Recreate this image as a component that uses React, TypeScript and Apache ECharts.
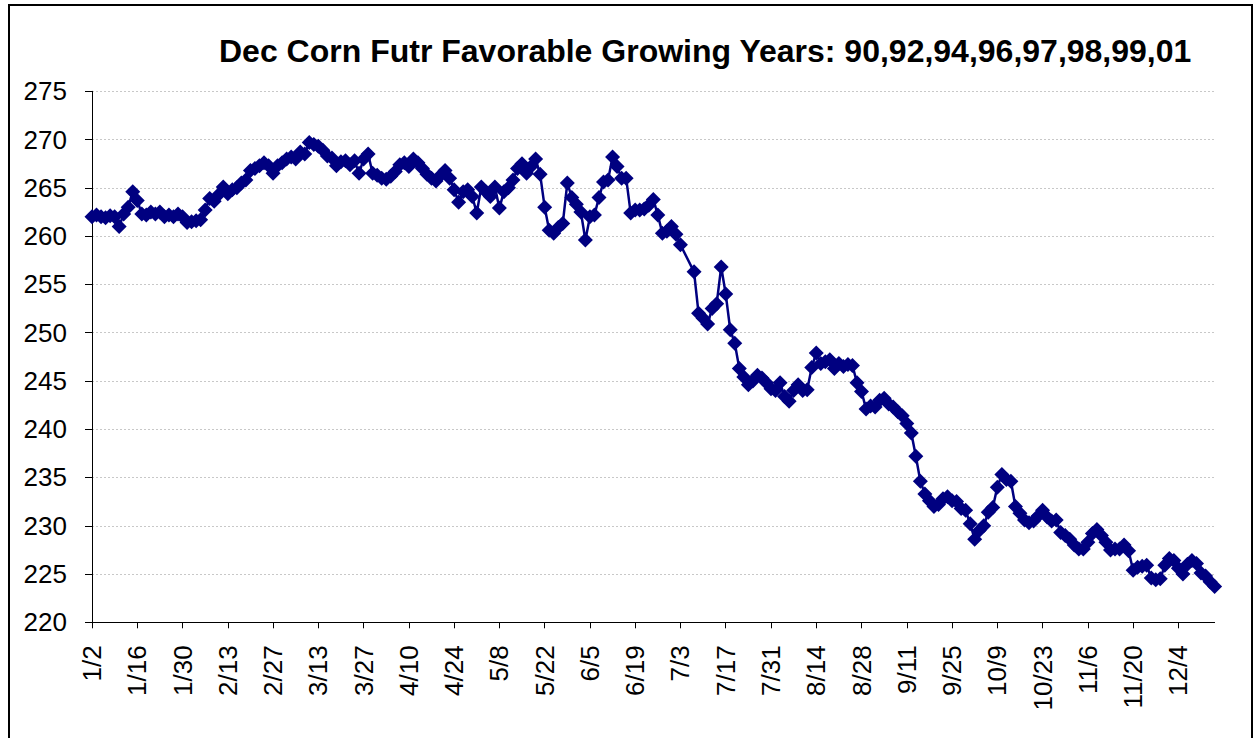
import React, { useEffect, useRef } from "react";
import * as echarts from "echarts";

const titleText = "Dec Corn Futr Favorable Growing Years: 90,92,94,96,97,98,99,01";

// trading-day (weekday) categories starting 1/2
const startMonth = 1;
const startDay = 2;
const categoryCount = 249;
const daysInMonth = [31, 28, 31, 30, 31, 30, 31, 31, 30, 31, 30, 31];
function buildCategories(): string[] {
  const out: string[] = [];
  let m = startMonth;
  let d = startDay;
  let dow = 1; // Monday
  while (out.length < categoryCount) {
    if (dow >= 1 && dow <= 5) out.push(m + "/" + d);
    d += 1;
    if (d > daysInMonth[m - 1]) {
      d = 1;
      m += 1;
    }
    dow = (dow + 1) % 7;
  }
  return out;
}
const categories = buildCategories();

const yMin = 220;
const yMax = 275;
const yStep = 5;

const prices: (number | null)[] = [
  262.0, 262.2, 262.0, 261.9, 262.1, 262.0, 261.0, 262.3, 263.0, 264.6,
  263.7, 262.3, 262.2, 262.5, 262.3, 262.5, 262.0, 262.2, 262.0, 262.3,
  262.0, 261.4, 261.5, 261.6, 261.7, 262.7, 263.9, 263.6, 264.3, 265.1,
  264.4, 264.8, 265.0, 265.5, 265.8, 266.8, 267.0, 267.3, 267.6, 267.3,
  266.5, 267.3, 267.6, 268.0, 268.2, 268.0, 268.7, 268.5, 269.7, 269.5,
  269.3, 268.9, 268.3, 268.1, 267.3, 267.7, 267.8, 267.4, 267.8, 266.5,
  268.0, 268.5, 266.5, 266.3, 266.0, 265.9, 266.2, 266.7, 267.4, 267.6,
  267.2, 268.0, 267.6, 267.0, 266.4, 266.0, 265.7, 266.3, 266.8, 266.0,
  264.8, 263.5, 264.6, 264.8, 264.1, 262.4, 265.1, 264.6, 264.1, 265.1,
  262.9, 264.6, 265.0, 265.8, 267.0, 267.5, 266.5, 267.2, 268.0, 266.4,
  263.0, 260.6, 260.3, 260.9, 261.3, 265.5, 264.0, 263.3, 262.5, 259.6,
  262.0, 262.2, 264.0, 265.6, 265.8, 268.2, 267.2, 266.0, 266.0, 262.4,
  262.7, 262.7, 262.8, 263.2, 263.8, 262.2, 260.3, 260.5, 261.0, 260.2,
  259.1, null, null, 256.3, 252.0, 251.5, 250.9, 252.5, 253.0, 256.8,
  254.0, 250.3, 248.9, 246.3, 245.4, 244.6, 245.0, 245.6, 245.3, 244.8,
  244.2, 244.0, 244.8, 243.4, 242.9, 244.0, 244.6, 244.0, 244.1, 246.4,
  247.9, 246.8, 247.0, 247.2, 246.3, 246.8, 246.5, 246.7, 246.6, 244.8,
  243.9, 242.1, 242.4, 242.3, 243.0, 243.2, 242.6, 242.3, 241.8, 241.4,
  240.6, 239.6, 237.2, 234.6, 233.3, 232.6, 232.0, 232.2, 232.8, 233.0,
  232.6, 232.5, 231.8, 231.6, 230.2, 228.6, 229.5, 230.0, 231.4, 231.9,
  234.0, 235.3, 234.8, 234.6, 232.0, 231.3, 230.6, 230.3, 230.5, 231.0,
  231.6, 230.9, 230.5, 230.6, 229.3, 229.0, 228.6, 228.0, 227.6, 227.6,
  228.3, 229.2, 229.6, 229.0, 228.3, 227.5, 227.6, 227.6, 228.0, 227.4,
  225.4, 225.7, 225.8, 225.9, 224.6, 224.4, 224.5, 225.9, 226.6, 226.4,
  225.6, 225.0, 226.0, 226.4, 226.1, 225.1, 224.8, 224.2, 223.7,
];

const FONT = "'Liberation Sans', Arial, sans-serif";

export default function App() {
  const ref = useRef<HTMLDivElement>(null);
  useEffect(() => {
    document.body.style.margin = "0";
    if (!ref.current) return;
    const chart = echarts.init(ref.current, null, { renderer: "svg" });
    chart.setOption({
      animation: false,
      backgroundColor: "#ffffff",
      title: {
        text: titleText,
        left: 214,
        top: 30,
        textStyle: { fontFamily: FONT, fontSize: 32, fontWeight: "bold", color: "#000" },
      },
      graphic: [
        {
          type: "rect",
          shape: { x: 9, y: 5, width: 1243, height: 800 },
          style: { fill: "none", stroke: "#000", lineWidth: 2 },
          silent: true,
        },
      ],
      grid: { left: 92, top: 91.3, right: 40.4, bottom: 115.7, containLabel: false },
      xAxis: {
        type: "category",
        data: categories,
        boundaryGap: false,
        axisLine: { lineStyle: { color: "#000", width: 1 } },
        axisTick: { show: true, interval: 9, length: 6, lineStyle: { color: "#000" } },
        axisLabel: {
          interval: 9,
          rotate: 90,
          margin: 23,
          fontFamily: FONT,
          fontSize: 26,
          color: "#000",
        },
        splitLine: { show: false },
      },
      yAxis: {
        type: "value",
        min: yMin,
        max: yMax,
        interval: yStep,
        axisLine: { show: true, lineStyle: { color: "#000", width: 1 } },
        axisTick: { show: true, length: 7, lineStyle: { color: "#000" } },
        axisLabel: { margin: 25, fontFamily: FONT, fontSize: 26, color: "#000" },
        splitLine: { show: true, lineStyle: { color: "#c8c8c8", width: 1, type: [2, 2] } },
      },
      series: [
        {
          type: "line",
          data: prices,
          connectNulls: true,
          showSymbol: true,
          showAllSymbol: true,
          symbol: "diamond",
          symbolSize: 15,
          itemStyle: { color: "#000080" },
          lineStyle: { color: "#000080", width: 2.5 },
        },
      ],
    });
    return () => chart.dispose();
  }, []);
  return <div ref={ref} style={{ width: 1255, height: 738 }} />;
}
